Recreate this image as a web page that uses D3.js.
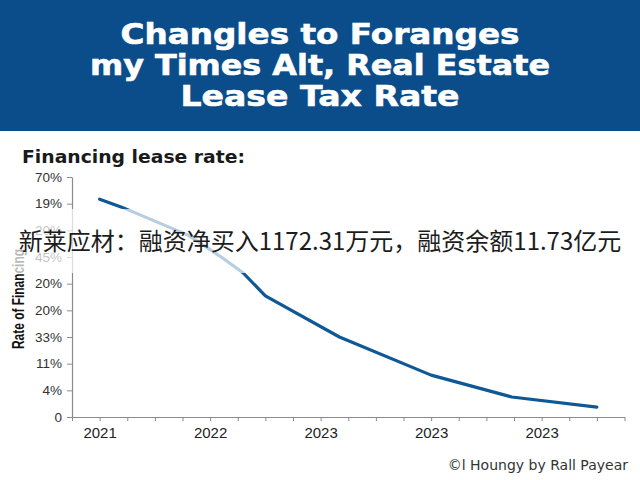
<!DOCTYPE html>
<html>
<head>
<meta charset="utf-8">
<script src="https://cdn.jsdelivr.net/npm/d3@7"></script>
<style>
  body { margin: 0; background: #fff; }
  svg { display: block; }
</style>
</head>
<body>
<div class="main-area"></div>
<script>
// data (x in year steps from 2021, y in tick steps)
const titleLines = ["Changles to Foranges", "my Times Alt, Real Estate", "Lease Tax Rate"];
const yearLabels = ["2021", "2022", "2023", "2023", "2023"];
const yTickLabels = ["0", "4%", "11%", "33%", "20%", "20%", "45%", "20%", "19%", "70%"];
const rateX = [0, 0.2, 0.8, 1.1, 1.3, 1.5, 2.17, 3.0, 3.73, 4.5];
const rateY = [8.17, 7.87, 6.82, 6.0, 5.4, 4.54, 3.0, 1.57, 0.75, 0.37];

const width = 640;
const height = 480;
// measured widths of the title lines in the reference
const titleWidths = [399, 460, 279];

const svg = d3.select('.main-area')
  .append('svg')
  .attr('width', width)
  .attr('height', height)
  .attr('font-family', 'Liberation Sans, Arial, sans-serif');

// header band
svg.append('rect')
  .attr('width', width)
  .attr('height', 131)
  .attr('fill', '#0b4d8b');

svg.append('g')
  .selectAll('text')
  .data(titleLines)
  .join('text')
  .attr('x', width / 2)
  .attr('y', (d, i) => 44 + i * 31)
  .attr('text-anchor', 'middle')
  .attr('fill', '#fff')
  .attr('stroke', '#fff')
  .attr('stroke-width', 0.6)
  .attr('font-family', 'DejaVu Sans, sans-serif')
  .attr('font-weight', 'bold')
  .attr('font-size', 29)
  .attr('textLength', (d, i) => titleWidths[i])
  .attr('lengthAdjust', 'spacingAndGlyphs')
  .text(d => d);

svg.append('text')
  .attr('x', 22)
  .attr('y', 163)
  .attr('font-family', 'DejaVu Sans, sans-serif')
  .attr('font-weight', 'bold')
  .attr('font-size', 17.5)
  .attr('fill', '#1a1a1a')
  .attr('textLength', 223)
  .attr('lengthAdjust', 'spacingAndGlyphs')
  .text('Financing lease rate:');

const x = d3.scaleLinear().domain([-0.25, 4.75]).range([72, 624.5]);
const y = d3.scaleLinear().domain([0, 9]).range([417, 177]);

// y axis
const yAxis = svg.append('g')
  .attr('transform', `translate(${x(-0.25)},0)`)
  .call(d3.axisLeft(y)
    .tickValues(d3.range(yTickLabels.length))
    .tickFormat(i => yTickLabels[i])
    .tickSize(5)
    .tickSizeOuter(0)
    .tickPadding(5));
yAxis.select('.domain').attr('stroke', '#8a8a8a').attr('stroke-width', 1.2);
yAxis.selectAll('.tick line').attr('stroke', '#8a8a8a');
yAxis.selectAll('.tick text')
  .attr('font-size', 13.5)
  .attr('fill', '#333')
  .attr('font-family', 'Liberation Sans, Arial, sans-serif');

// x axis, quarter ticks with year labels on whole steps
const xAxis = svg.append('g')
  .attr('transform', `translate(0,${y(0)})`)
  .call(d3.axisBottom(x)
    .tickValues(d3.range(-1, 20).map(q => q / 4))
    .tickFormat(d => Number.isInteger(d) && d >= 0 ? yearLabels[d] : '')
    .tickSize(4)
    .tickSizeOuter(0)
    .tickPadding(6));
xAxis.select('.domain').attr('stroke', '#8a8a8a').attr('stroke-width', 1.2);
xAxis.selectAll('.tick line').attr('stroke', '#8a8a8a');
xAxis.selectAll('.tick text')
  .attr('font-size', 15)
  .attr('fill', '#222')
  .attr('font-family', 'Liberation Sans, Arial, sans-serif');

// y axis title, squeezed like the reference
svg.append('text')
  .attr('transform', 'translate(24,349) rotate(-90)')
  .attr('text-anchor', 'start')
  .attr('font-family', 'Liberation Sans, Arial, sans-serif')
  .attr('font-weight', 'bold')
  .attr('font-size', 16)
  .attr('fill', '#111')
  .attr('textLength', 100)
  .attr('lengthAdjust', 'spacingAndGlyphs')
  .text('Rate of Financing');

// the rate line
const line = d3.line()
  .x(d => x(d[0]))
  .y(d => y(d[1]));

svg.append('path')
  .datum(d3.zip(rateX, rateY))
  .attr('fill', 'none')
  .attr('stroke', '#0f5896')
  .attr('stroke-width', 3.2)
  .attr('stroke-linejoin', 'round')
  .attr('stroke-linecap', 'round')
  .attr('d', line);

// faded band behind the overlay caption
svg.append('rect')
  .attr('x', 0)
  .attr('y', 209)
  .attr('width', width)
  .attr('height', 64)
  .attr('fill', '#fff')
  .attr('opacity', 0.7);

svg.append('text')
  .attr('x', width / 2)
  .attr('y', 250)
  .attr('text-anchor', 'middle')
  .attr('font-family', 'Noto Sans CJK SC, sans-serif')
  .attr('font-size', 24)
  .attr('fill', '#1c1c1c')
  .text('新莱应材：融资净买入1172.31万元，融资余额11.73亿元');

svg.append('text')
  .attr('x', 628)
  .attr('y', 470)
  .attr('text-anchor', 'end')
  .attr('font-family', 'DejaVu Sans, sans-serif')
  .attr('font-size', 14)
  .attr('fill', '#333')
  .text('©l Houngy by Rall Payear');
</script>
</body>
</html>
